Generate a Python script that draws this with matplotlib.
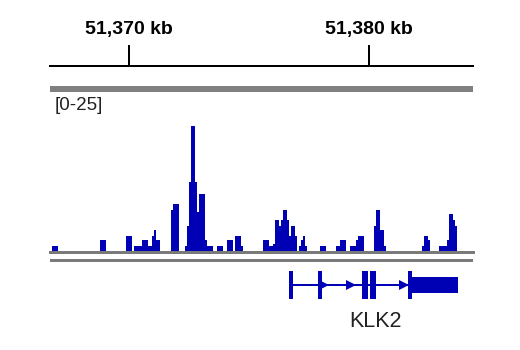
"""Coverage track at the KLK2 locus, drawn like an IGV snapshot."""
import matplotlib
matplotlib.use("Agg")
import matplotlib.pyplot as plt  # noqa: E402
from matplotlib.patches import Rectangle  # noqa: E402

plt.rcParams["font.family"] = ["Liberation Sans", "DejaVu Sans"]

# view window (kb) and ruler
view_start_kb = 51366.708
view_end_kb = 51384.333
ruler_ticks_kb = [51370, 51380]
data_range = (0, 25)

# bedGraph-style signal: bin start / end (kb) and value
bg_start = [51366.792, 51368.792, 51369.875, 51370.208, 51370.542, 51370.792,
            51370.958, 51371.042, 51371.125, 51371.750, 51371.833, 51372.333,
            51372.417, 51372.500, 51372.583, 51372.750, 51372.833, 51372.917,
            51373.167, 51373.250, 51373.667, 51374.083, 51374.417, 51374.667,
            51375.583, 51375.833, 51376.000, 51376.083, 51376.250, 51376.333,
            51376.417, 51376.583, 51376.667, 51376.750, 51376.917, 51377.083,
            51377.167, 51377.250, 51377.333, 51377.958, 51378.625, 51378.792,
            51379.208, 51379.458, 51379.542, 51380.208, 51380.292, 51380.458,
            51380.625, 51382.208, 51382.292, 51382.458, 51382.917, 51383.250,
            51383.333, 51383.500, 51383.583]
bg_end = [51367.042, 51369.042, 51370.125, 51370.542, 51370.792, 51370.958,
          51371.042, 51371.125, 51371.292, 51371.833, 51372.083, 51372.417,
          51372.500, 51372.583, 51372.750, 51372.833, 51372.917, 51373.167,
          51373.250, 51373.500, 51373.917, 51374.333, 51374.667, 51374.750,
          51375.833, 51376.000, 51376.083, 51376.250, 51376.333, 51376.417,
          51376.583, 51376.667, 51376.750, 51376.917, 51377.000, 51377.167,
          51377.250, 51377.333, 51377.417, 51378.208, 51378.792, 51379.042,
          51379.458, 51379.542, 51379.792, 51380.292, 51380.458, 51380.625,
          51380.708, 51382.292, 51382.458, 51382.542, 51383.250, 51383.333,
          51383.500, 51383.583, 51383.667]
bg_value = [1.1, 2.3, 3.1, 1.1, 2.3, 1.1,
            3.1, 4.3, 2.3, 8.3, 9.5, 1.1,
            5.1, 13.8, 25.0, 13.8, 7.9, 11.5,
            2.3, 1.1, 1.1, 2.3, 3.1, 1.1,
            2.3, 1.1, 1.5, 6.3, 5.1, 6.3,
            8.3, 6.3, 3.1, 5.1, 3.1, 1.1,
            2.3, 3.1, 1.1, 1.1, 1.1, 2.3,
            1.1, 2.3, 3.1, 5.1, 8.3, 4.3,
            1.1, 1.1, 3.1, 2.3, 1.1, 2.3,
            7.5, 6.3, 5.1]

# KLK2 gene model (kb), plus strand
gene_name = "KLK2"
gene_start, gene_end = 51376.667, 51383.708
exon_start = [51376.667, 51377.875, 51379.708, 51380.042, 51381.625]
exon_end = [51376.833, 51378.042, 51379.958, 51380.292, 51383.708]
cds_end = 51381.792
strand_marks = [51378.125, 51379.250, 51381.458]

BLUE = "#0000b4"
GRAY = "#7a7a7a"
W, H = 520, 350

fig = plt.figure(figsize=(W / 100, H / 100), dpi=100)


def px_axes(left, top, right, bottom):
    return fig.add_axes([left / W, 1 - bottom / H, (right - left) / W, (bottom - top) / H])


# decorations in pixel space
bg = px_axes(0, 0, W, H)
bg.set_xlim(0, W); bg.set_ylim(H, 0)
bg.axis("off")
bg.add_patch(Rectangle((50, 86), 423, 6, color="#808080", lw=0))
bg.add_patch(Rectangle((50, 259), 423, 3, color=GRAY, lw=0))
bg.text(55, 105, f"[{data_range[0]}-{data_range[1]}]", fontsize=13.5,
        ha="left", va="center", color="#222222")

# ruler
ax_r = px_axes(50, 45, 473, 66)
ax_r.set_xlim(view_start_kb, view_end_kb)
ax_r.set_ylim(0, 1)
for s in ("top", "left", "right"):
    ax_r.spines[s].set_visible(False)
ax_r.spines["bottom"].set_linewidth(1.44)
ax_r.set_yticks([])
ax_r.set_xticks(ruler_ticks_kb)
ax_r.tick_params(axis="x", direction="in", length=15.1, width=1.44,
                 labelbottom=False)
ax_r.patch.set_alpha(0)
for kb in ruler_ticks_kb:
    ax_r.text(kb, 1.72, f"{kb:,} kb", transform=ax_r.get_xaxis_transform(),
              ha="center", va="center", fontsize=14, fontweight="bold")

# signal track
ax = px_axes(50, 126, 473, 251.5)
ax.set_xlim(view_start_kb, view_end_kb)
ax.set_ylim(*data_range)
ax.axis("off")
widths = [e - s for s, e in zip(bg_start, bg_end)]
ax.bar(bg_start, bg_value, width=widths, align="edge", color=BLUE, lw=0)
ax.axhline(0, color=GRAY, lw=2.16, zorder=5, clip_on=False)

# gene track
ax_g = px_axes(50, 271, 473, 299)
ax_g.set_xlim(view_start_kb, view_end_kb)
ax_g.set_ylim(0, 28)
ax_g.axis("off")
ax_g.hlines(14, gene_start, gene_end, color=BLUE, lw=1.44)
for s, e in zip(exon_start, exon_end):
    if s < cds_end:
        ax_g.bar(s, 28, width=min(e, cds_end) - s, align="edge", color=BLUE, lw=0)
    if e > cds_end:
        lo = max(s, cds_end)
        ax_g.bar(lo, 16, bottom=6, width=e - lo, align="edge", color=BLUE, lw=0)
ax_g.plot(strand_marks, [14] * len(strand_marks), ">", color=BLUE, ms=6.5, mew=0)
ax_g.text((gene_start + gene_end) / 2 + 0.1, -0.79, gene_name,
          transform=ax_g.get_xaxis_transform(), ha="center", va="center",
          fontsize=15.5, color="#222222")

fig.savefig("out.png", dpi=100)
